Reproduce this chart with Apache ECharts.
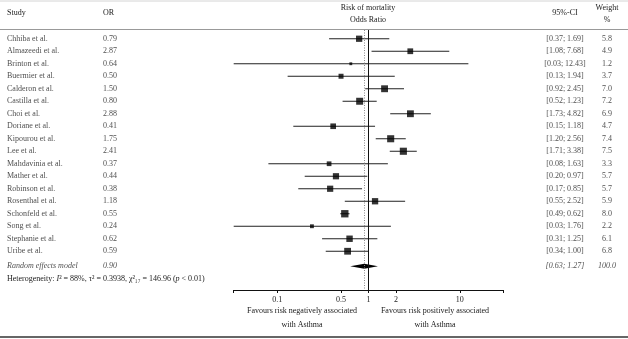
<!DOCTYPE html>
<html>
<head>
<meta charset="utf-8">
<script src="https://cdn.jsdelivr.net/npm/echarts@6/dist/echarts.min.js"></script>
<style>
  html, body { margin: 0; padding: 0; background: #fff; }
  #chart { width: 628px; height: 339px; }
</style>
</head>
<body>
<div id="chart"></div>
<script>
const studies = ['Chhiba et al.', 'Almazeedi et al.', 'Brinton et al.', 'Buermier et al.', 'Calderon et al.',
  'Castilla et al.', 'Choi et al.', 'Doriane et al.', 'Kipourou et al.', 'Lee et al.', 'Mahdavinia et al.',
  'Mather et al.', 'Robinson et al.', 'Rosenthal et al.', 'Schonfeld et al.', 'Song et al.',
  'Stephanie et al.', 'Uribe et al.'];
const or = [0.79, 2.87, 0.64, 0.50, 1.50, 0.80, 2.88, 0.41, 1.75, 2.41, 0.37, 0.44, 0.38, 1.18, 0.55, 0.24, 0.62, 0.59];
const ciLo = [0.37, 1.08, 0.03, 0.13, 0.92, 0.52, 1.73, 0.15, 1.20, 1.71, 0.08, 0.20, 0.17, 0.55, 0.49, 0.03, 0.31, 0.34];
const ciHi = [1.69, 7.68, 12.43, 1.94, 2.45, 1.23, 4.82, 1.18, 2.56, 3.38, 1.63, 0.97, 0.85, 2.52, 0.62, 1.76, 1.25, 1.00];
const weight = [5.8, 4.9, 1.2, 3.7, 7.0, 7.2, 6.9, 4.7, 7.4, 7.5, 3.3, 5.7, 5.7, 5.9, 8.0, 2.2, 6.1, 6.8];
const pooled = {or: 0.90, lo: 0.63, hi: 1.27, weight: 100.0};
const tickValues = [0.1, 0.5, 1, 2, 10];
const xLimit = 30;

const FONT = '"Liberation Serif", "DejaVu Serif", serif';
const lg = Math.log10;
const POOLED_ROW = 18.2;
const ciText = (lo, hi) => `[${lo.toFixed(2)}; ${hi.toFixed(2)}]`;

const chart = echarts.init(document.getElementById('chart'));

// text grid shares the same row scale as the plot grid (12.5px per row, row 0 at y≈39)
const rowMin = -3.1, rowMax = 24.02;

function textSeries(name, x, rows, texts, opts) {
  return {
    name, type: 'scatter', xAxisIndex: 1, yAxisIndex: 1, symbolSize: 0, silent: true,
    data: rows.map((r, i) => ({value: [x, r], label: {formatter: texts[i]}})),
    label: Object.assign({
      show: true, position: 'inside', color: '#1a1a1a', fontFamily: FONT, fontSize: 8
    }, opts || {}),
  };
}

const rowIdx = studies.map((_, i) => i);

const option = {
  animation: false,
  grid: [
    {left: 233.7, right: 124.7, top: 30, bottom: 49},
    {left: 0, right: 0, top: 0, bottom: 0},
  ],
  xAxis: [
    {
      type: 'value', min: -lg(xLimit), max: lg(xLimit),
      splitLine: {show: false},
      axisLine: {show: true, onZero: false, lineStyle: {color: '#111', width: 1}},
      axisTick: {show: true, length: 3, lineStyle: {color: '#111'},
        customValues: [-lg(xLimit)].concat(tickValues.map(lg), [lg(xLimit)])},
      axisLabel: {customValues: tickValues.map(lg), margin: 6, color: '#1a1a1a', fontFamily: FONT, fontSize: 8,
        formatter: (v) => String(+Math.pow(10, v).toFixed(2))},
    },
    {type: 'value', gridIndex: 1, min: 0, max: 628, show: false},
  ],
  yAxis: [
    {type: 'value', min: -0.7, max: 20.1, inverse: true, show: false},
    {type: 'value', gridIndex: 1, min: rowMin, max: rowMax, inverse: true, show: false},
  ],
  graphic: [
    {type: 'line', shape: {x1: 0, y1: 1, x2: 628, y2: 1}, style: {stroke: '#d4d4d4', lineWidth: 1}},
    {type: 'line', shape: {x1: 0, y1: 29.5, x2: 628, y2: 29.5}, style: {stroke: '#999', lineWidth: 1}},
    {type: 'rect', shape: {x: 0, y: 336, width: 628, height: 2}, style: {fill: '#666'}},
    {type: 'text', left: 7, top: 9, style: {text: 'Study', font: '8px ' + FONT, fill: '#1a1a1a'}},
    {type: 'text', left: 103, top: 9, style: {text: 'OR', font: '8px ' + FONT, fill: '#1a1a1a'}},
    {type: 'text', x: 368, y: 4, style: {text: 'Risk of mortality', font: '8px ' + FONT, fill: '#1a1a1a', align: 'center'}},
    {type: 'text', x: 368, y: 16, style: {text: 'Odds Ratio', font: '8px ' + FONT, fill: '#1a1a1a', align: 'center'}},
    {type: 'text', x: 565, y: 9, style: {text: '95%-CI', font: '8px ' + FONT, fill: '#1a1a1a', align: 'center'}},
    {type: 'text', x: 607, y: 4, style: {text: 'Weight', font: '8px ' + FONT, fill: '#1a1a1a', align: 'center'}},
    {type: 'text', x: 607, y: 16, style: {text: '%', font: '8px ' + FONT, fill: '#1a1a1a', align: 'center'}},
    {type: 'text', x: 7, y: 275, style: {
      rich: {t: {fontFamily: FONT, fontSize: 8, fill: '#1a1a1a'}, i: {fontFamily: FONT, fontSize: 8, fontStyle: 'italic', fill: '#1a1a1a'}},
      text: '{t|Heterogeneity: }{i|I}{t|² = 88%, τ² = 0.3938, χ²₁₇ = 146.96 (}{i|p}{t| < 0.01)}'}},
    {type: 'text', x: 302, y: 307, style: {text: 'Favours risk negatively associated', font: '8px ' + FONT, fill: '#1a1a1a', align: 'center'}},
    {type: 'text', x: 302, y: 321, style: {text: 'with Asthma', font: '8px ' + FONT, fill: '#1a1a1a', align: 'center'}},
    {type: 'text', x: 435, y: 307, style: {text: 'Favours risk positively associated', font: '8px ' + FONT, fill: '#1a1a1a', align: 'center'}},
    {type: 'text', x: 435, y: 321, style: {text: 'with Asthma', font: '8px ' + FONT, fill: '#1a1a1a', align: 'center'}},
  ],
  series: [
    // reference lines
    {
      type: 'line', data: [], silent: true,
      markLine: {
        symbol: 'none', silent: true, label: {show: false},
        data: [
          {xAxis: lg(pooled.or), lineStyle: {color: '#888', type: [1, 1.5], width: 1}},
          {xAxis: 0, lineStyle: {color: '#111', type: 'solid', width: 1}},
        ],
      },
    },
    // confidence intervals
    {
      type: 'custom', silent: true,
      data: rowIdx.map((i) => [lg(Math.max(ciLo[i], 1 / xLimit)), lg(Math.min(ciHi[i], xLimit)), i]),
      renderItem: (params, api) => {
        const a = api.coord([api.value(0), api.value(2)]);
        const b = api.coord([api.value(1), api.value(2)]);
        return {type: 'line', shape: {x1: a[0], y1: a[1], x2: b[0], y2: b[1]}, style: {stroke: '#222', lineWidth: 1}};
      },
    },
    // study estimates
    {
      type: 'scatter', symbol: 'rect', silent: true,
      data: rowIdx.map((i) => [lg(or[i]), i, weight[i]]),
      symbolSize: (v) => 2.6 * Math.sqrt(v[2]),
      itemStyle: {color: '#000'},
    },
    // pooled diamond
    {
      type: 'custom', silent: true,
      data: [[lg(pooled.lo), lg(pooled.or), lg(pooled.hi), POOLED_ROW]],
      renderItem: (params, api) => {
        const l = api.coord([api.value(0), api.value(3)]);
        const m = api.coord([api.value(1), api.value(3)]);
        const r = api.coord([api.value(2), api.value(3)]);
        const h = 2.6;
        return {type: 'polygon', shape: {points: [[l[0], l[1]], [m[0], m[1] - h], [r[0], r[1]], [m[0], m[1] + h]]},
          style: {fill: '#000'}};
      },
    },
    // table columns
    textSeries('study', 7, rowIdx, studies, {position: 'right', distance: 0}),
    textSeries('or', 103, rowIdx, or.map((v) => v.toFixed(2)), {position: 'right', distance: 0}),
    textSeries('ci', 565, rowIdx, rowIdx.map((i) => ciText(ciLo[i], ciHi[i]))),
    textSeries('w', 607, rowIdx, weight.map((v) => v.toFixed(1))),
    textSeries('pStudy', 7, [POOLED_ROW], ['Random effects model'], {position: 'right', distance: 0, fontStyle: 'italic'}),
    textSeries('pOr', 103, [POOLED_ROW], [pooled.or.toFixed(2)], {position: 'right', distance: 0, fontStyle: 'italic'}),
    textSeries('pCi', 565, [POOLED_ROW], [ciText(pooled.lo, pooled.hi)], {fontStyle: 'italic'}),
    textSeries('pW', 607, [POOLED_ROW], [pooled.weight.toFixed(1)], {fontStyle: 'italic'}),
  ],
};

chart.setOption(option);
</script>
</body>
</html>
